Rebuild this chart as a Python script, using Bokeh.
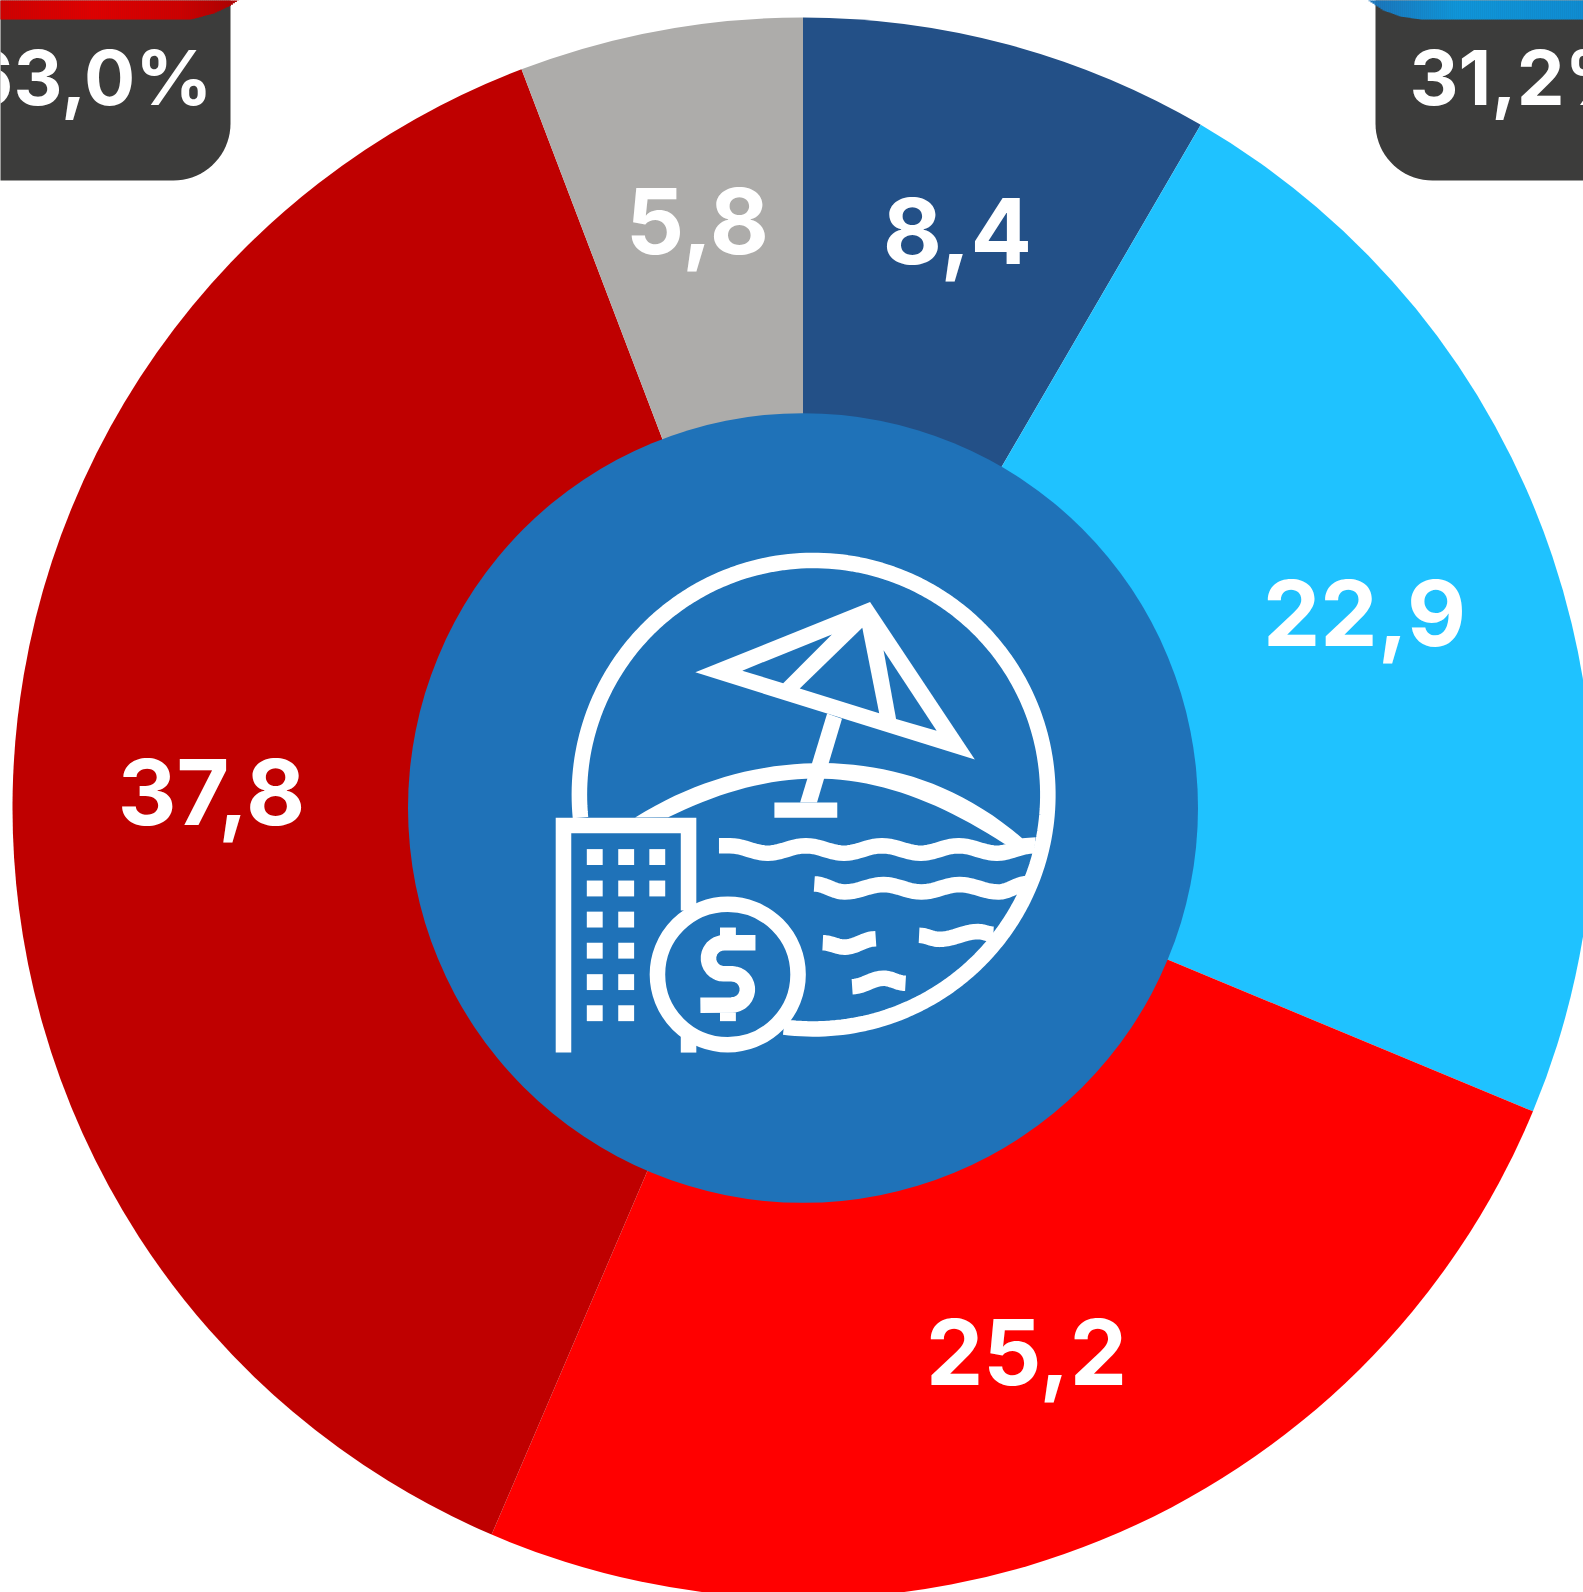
import numpy as np
from bokeh.plotting import figure
from bokeh.models import Range1d
from bokeh.core.properties import value
from bokeh.embed import file_html
from bokeh.resources import INLINE

# ---- data (clockwise from 12 o'clock) ----
categories = ["navy", "cyan", "red", "darkred", "grey"]
values = [8.4, 22.9, 25.2, 37.8, 5.8]
labels = ["8,4", "22,9", "25,2", "37,8", "5,8"]
colors = ["#235087", "#1fc2ff", "#ff0000", "#bf0000", "#adacaa"]
label_x = [957, 1364, 1026, 211, 697]
label_y = [264, 646, 1385, 825, 254]
total_left = "63,0%"
total_right = "31,2%"

CX, CY, R_OUT, R_IN = 802.5, 807.5, 790.5, 395
WHITE, HUB, DARK = "#ffffff", "#1f72b8", "#3c3c3b"
FONT = value("Inter")
LABEL_SIZE, TOTAL_SIZE = 91, 76
BASE_SHIFT = 0.37

p = figure(width=1583, height=1592, output_backend="svg", toolbar_location=None,
           x_range=Range1d(0, 1583), y_range=Range1d(1592, 0),
           min_border=0, outline_line_color=None, background_fill_color="white")
p.axis.visible = False
p.grid.visible = False

# ---- donut ----
frac = np.cumsum([0] + values) / sum(values)
start = np.pi / 2 - 2 * np.pi * frac[:-1]
end = np.pi / 2 - 2 * np.pi * frac[1:]
p.wedge(x=[CX] * 5, y=[CY] * 5, radius=R_OUT, start_angle=list(start), end_angle=list(end),
        direction="clock", fill_color=colors, line_color=None)
p.circle(x=[CX], y=[CY], radius=R_IN, fill_color=HUB, line_color=None)
p.text(x=label_x, y=[v - BASE_SHIFT * LABEL_SIZE for v in label_y], text=labels, text_color=WHITE,
       text_font=FONT, text_font_style="bold",
       text_font_size=f"{LABEL_SIZE}px", text_align="center", text_baseline="alphabetic")


# ---- header cards ----
def card(x0, x1, rounded_x, sign):
    k = 57
    t = np.linspace(0, np.pi / 2, 20)
    xs = [x0, x1] if sign > 0 else [x1, x0]
    cxs = rounded_x - sign * k + sign * k * np.cos(t)
    cys = 180 - k + k * np.sin(t)
    px = [xs[0], rounded_x, *cxs, xs[0]]
    py = [-5, -5, *cys, 180]
    p.patch(px, py, fill_color=DARK, line_color=None)


card(-5, 230, 230, 1)
card(1375, 1590, 1375, -1)


def band(edge_x, edge_y, x_from, x_to, stops):
    a = np.arange(x_from, x_to, 2.0)
    h = np.interp(a + 1, edge_x, edge_y)
    q = (a + 1 - x_from) / (x_to - x_from)
    px = [s[0] for s in stops]
    col = []
    for u in q:
        c = [np.interp(u, px, [s[1][i] for s in stops]) for i in range(3)]
        col.append("#%02x%02x%02x" % tuple(int(v) for v in c))
    p.quad(left=list(a), right=list(a + 2.4), top=[-2] * len(a), bottom=list(h), fill_color=col, line_color=None)


band([190, 213, 230, 237], [19, 13, 5, 0], -4, 238,
     [(0, (208, 0, 0)), (0.4, (224, 0, 0)), (0.75, (206, 0, 0)), (1, (172, 0, 0))])
band([1368, 1383, 1400, 1420], [0, 10, 16, 19], 1368, 1590,
     [(0, (27, 117, 187)), (0.4, (15, 150, 218)), (1, (15, 140, 210))])

p.text(x=[212], y=[104.5 - BASE_SHIFT * TOTAL_SIZE], text=[total_left], text_color=WHITE, text_font=FONT,
       text_font_style="bold", text_font_size=f"{TOTAL_SIZE}px", text_align="right", text_baseline="alphabetic")
p.text(x=[1409], y=[104.5 - BASE_SHIFT * TOTAL_SIZE], text=[total_right], text_color=WHITE, text_font=FONT,
       text_font_style="bold", text_font_size=f"{TOTAL_SIZE}px", text_align="left", text_baseline="alphabetic")

# ---- centre icon (decoration, drawn in crop units: 1568 units = 530 px) ----
U = 530 / 1568


def zx(v):
    return [540 + a * U for a in v]


def zy(v):
    return [540 + a * U for a in v]


def poly(pts, color=WHITE):
    p.patch(zx([a[0] for a in pts]), zy([a[1] for a in pts]), fill_color=color, line_color=None)


def stroke(pts, w=46):
    p.line(zx([a[0] for a in pts]), zy([a[1] for a in pts]), line_color=WHITE, line_width=w * U,
           line_join="round", line_cap="butt")


def smooth(pts, n=10):
    out = []
    for (x0, y0), (x1, y1) in zip(pts[:-1], pts[1:]):
        for s in np.linspace(0, 1, n, endpoint=False):
            out.append((x0 + (x1 - x0) * s, y0 + (y1 - y0) * (1 - np.cos(np.pi * s)) / 2))
    out.append(pts[-1])
    return out


def arc_pts(cx, cy, r, a0, a1, n=24):
    t = np.radians(np.linspace(a0, a1, n))
    return [(cx + r * np.cos(u), cy + r * np.sin(u)) for u in t]


def curve(read, n=40, deg=4):
    rx, ry = zip(*read)
    c = np.polyfit(rx, ry, deg)
    sx = np.linspace(rx[0], rx[-1], n)
    return list(zip(sx, np.polyval(c, sx)))


# big ring
stroke(arc_pts(808, 752, 693, 174.4, 457.3, 200))
# hill
hill_top = curve([(280, 820), (420, 745), (560, 695), (700, 668), (830, 658), (960, 668), (1090, 695), (1220, 745),
                  (1330, 810), (1425, 880)])
hill_low = curve([(378, 820), (460, 780), (560, 745), (700, 715), (830, 705), (900, 708), (1020, 730), (1150, 780),
                  (1270, 835), (1372, 897)])
poly(hill_top + [(1465, 878), (1460, 925)] + hill_low[::-1])
# umbrella
poly([(458, 390), (975, 182), (1285, 648)])
poly([(597, 385), (862, 278), (718, 422)], HUB)
poly([(767, 438), (952, 258), (1002, 511)], HUB)
poly([(1015, 325), (1172, 563), (1052, 528)], HUB)
poly([(848, 512), (892, 527), (818, 775), (768, 775)])
poly([(692, 775), (878, 775), (878, 820), (692, 820)])
# waves
stroke(smooth([(528, 903), (560, 903), (672, 925), (785, 903), (898, 925), (1010, 903), (1125, 925), (1237, 903),
               (1350, 925), (1460, 903)]))
stroke(smooth([(810, 1016), (900, 1040), (1015, 1018), (1127, 1040), (1240, 1018), (1355, 1040), (1440, 1015)]))
stroke(smooth([(835, 1190), (900, 1203), (992, 1178)]))
stroke(smooth([(1120, 1168), (1180, 1180), (1295, 1157), (1340, 1165)]))
stroke(smooth([(922, 1320), (1015, 1295), (1080, 1310)]))
# building
p.line(zx([68, 68, 438, 438]), zy([1515, 843, 843, 1095]), line_color=WHITE, line_width=46 * U,
       line_join="miter", line_cap="butt")
stroke([(438, 1460), (438, 1515)])
for wx, rows in ((137, 6), (230, 6), (322, 2)):
    for wy in [913, 1006, 1098, 1190, 1283, 1375][:rows]:
        poly([(wx, wy), (wx + 47, wy), (wx + 47, wy + 47), (wx, wy + 47)])
# coin
p.circle(x=zx([554]), y=zy([1284]), radius=208 * U, fill_color=None, line_color=WHITE, line_width=46 * U)
dollar = [(636, 1190), (543, 1190)] + arc_pts(543, 1236, 46, 270, 90, 16) + [(566, 1282)] + \
         arc_pts(566, 1328, 46, -90, 90, 16) + [(473, 1375)]
stroke(dollar)
poly([(531, 1145), (578, 1145), (578, 1170), (531, 1170)])
poly([(531, 1396), (578, 1396), (578, 1422), (531, 1422)])

open("out.html", "w").write(file_html(p, INLINE))
